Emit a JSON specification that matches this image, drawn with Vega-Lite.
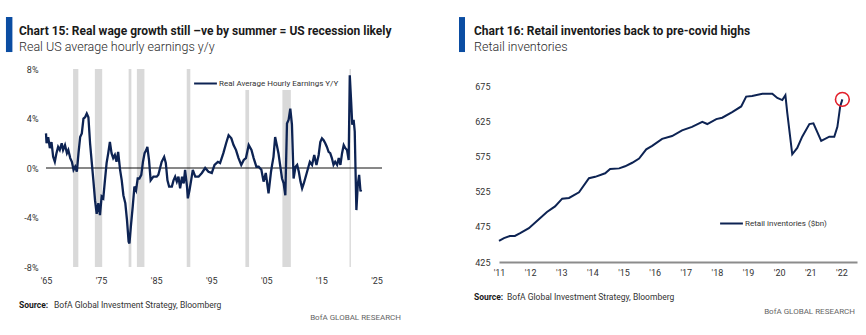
{
  "$schema": "https://vega.github.io/schema/vega-lite/v6.json",
  "padding": {"left": 5, "top": 17, "right": 5, "bottom": 5},
  "background": "white",
  "config": {
    "font": "Roboto",
    "view": {"stroke": null},
    "axis": {"grid": false, "ticks": false, "domain": false, "labelFontSize": 9, "labelColor": "#333333", "labelOverlap": false},
    "title": {"color": "#1a1a1a", "subtitleColor": "#2a2a2a"}
  },
  "resolve": {"scale": {"color": "independent"}, "legend": {"color": "independent"}},
  "datasets": {
    "one": [{"note": "annotation"}],
    "wages": [
      {"year":1965.0,"value":2.8},{"year":1965.1,"value":2.0},{"year":1965.4,"value":2.5},{"year":1965.7,"value":1.6},{"year":1966.0,"value":2.1},{"year":1966.3,"value":0.9},{"year":1966.6,"value":0.5},{"year":1966.9,"value":1.2},{"year":1967.2,"value":1.7},{"year":1967.5,"value":1.45},{"year":1967.85,"value":2.0},{"year":1968.1,"value":1.45},{"year":1968.45,"value":1.85},{"year":1968.8,"value":1.2},{"year":1969.05,"value":1.45},{"year":1969.4,"value":0.8},{"year":1969.7,"value":0.5},{"year":1970.0,"value":-0.15},{"year":1970.3,"value":0.1},{"year":1970.6,"value":-0.3},{"year":1970.9,"value":1.2},{"year":1971.2,"value":2.5},{"year":1971.5,"value":2.8},{"year":1971.8,"value":4.0},{"year":1972.1,"value":4.1},{"year":1972.4,"value":4.4},{"year":1972.7,"value":4.1},{"year":1973.0,"value":2.0},{"year":1973.3,"value":0.5},{"year":1973.6,"value":-1.0},{"year":1973.9,"value":-2.6},{"year":1974.2,"value":-3.7},{"year":1974.5,"value":-2.85},{"year":1974.8,"value":-3.8},{"year":1975.1,"value":-2.3},{"year":1975.4,"value":-2.45},{"year":1975.7,"value":-1.0},{"year":1976.0,"value":0.4},{"year":1976.3,"value":1.2},{"year":1976.6,"value":2.1},{"year":1976.9,"value":1.2},{"year":1977.2,"value":0.8},{"year":1977.5,"value":1.05},{"year":1977.8,"value":0.5},{"year":1978.1,"value":1.3},{"year":1978.45,"value":-0.15},{"year":1978.75,"value":-1.0},{"year":1979.05,"value":-2.2},{"year":1979.4,"value":-2.85},{"year":1979.7,"value":-4.2},{"year":1980.0,"value":-5.95},{"year":1980.15,"value":-6.1},{"year":1980.4,"value":-4.75},{"year":1980.75,"value":-3.1},{"year":1981.05,"value":-1.5},{"year":1981.35,"value":-1.8},{"year":1981.65,"value":-0.85},{"year":1981.95,"value":-0.85},{"year":1982.3,"value":-0.55},{"year":1982.6,"value":0.5},{"year":1982.9,"value":1.2},{"year":1983.2,"value":1.45},{"year":1983.4,"value":1.7},{"year":1983.7,"value":0.65},{"year":1984.0,"value":-1.0},{"year":1984.5,"value":-0.7},{"year":1984.8,"value":-0.7},{"year":1985.1,"value":-0.7},{"year":1985.4,"value":-0.55},{"year":1986.0,"value":0.5},{"year":1986.45,"value":0.9},{"year":1986.75,"value":0.4},{"year":1987.05,"value":-1.0},{"year":1987.35,"value":-1.5},{"year":1987.85,"value":-1.5},{"year":1988.15,"value":-1.0},{"year":1988.45,"value":-0.7},{"year":1988.75,"value":-1.1},{"year":1989.05,"value":-0.7},{"year":1989.35,"value":-1.65},{"year":1989.7,"value":-0.7},{"year":1990.0,"value":-1.25},{"year":1990.25,"value":-0.15},{"year":1990.6,"value":-1.5},{"year":1990.75,"value":-2.45},{"year":1991.05,"value":-1.8},{"year":1991.35,"value":-1.0},{"year":1991.65,"value":-0.15},{"year":1992.1,"value":-0.7},{"year":1992.7,"value":-0.7},{"year":1993.3,"value":-0.4},{"year":1993.9,"value":0.0},{"year":1994.5,"value":-0.3},{"year":1995.1,"value":-0.4},{"year":1995.6,"value":0.25},{"year":1996.2,"value":0.5},{"year":1996.6,"value":0.4},{"year":1997.2,"value":1.2},{"year":1997.7,"value":2.0},{"year":1998.15,"value":2.65},{"year":1998.65,"value":2.4},{"year":1999.05,"value":1.85},{"year":1999.5,"value":1.45},{"year":1999.95,"value":0.8},{"year":2000.45,"value":0.25},{"year":2000.9,"value":0.65},{"year":2001.3,"value":0.8},{"year":2001.8,"value":1.85},{"year":2002.3,"value":1.45},{"year":2002.7,"value":0.8},{"year":2003.2,"value":0.1},{"year":2003.6,"value":0.1},{"year":2004.1,"value":-0.15},{"year":2004.5,"value":-1.1},{"year":2004.9,"value":-0.4},{"year":2005.4,"value":-2.05},{"year":2005.85,"value":-0.3},{"year":2006.05,"value":0.25},{"year":2006.3,"value":0.9},{"year":2006.6,"value":2.5},{"year":2006.9,"value":1.85},{"year":2007.2,"value":1.2},{"year":2007.5,"value":0.25},{"year":2007.85,"value":-0.85},{"year":2008.15,"value":-1.25},{"year":2008.45,"value":-2.2},{"year":2008.75,"value":3.6},{"year":2009.05,"value":3.9},{"year":2009.35,"value":4.8},{"year":2009.65,"value":3.5},{"year":2009.95,"value":-0.85},{"year":2010.3,"value":0.1},{"year":2010.6,"value":0.25},{"year":2010.9,"value":-0.3},{"year":2011.2,"value":-1.1},{"year":2011.5,"value":-1.65},{"year":2011.8,"value":-1.25},{"year":2012.4,"value":-0.3},{"year":2012.9,"value":0.5},{"year":2013.3,"value":0.25},{"year":2013.7,"value":1.05},{"year":2014.1,"value":0.25},{"year":2014.5,"value":1.05},{"year":2014.8,"value":2.1},{"year":2015.1,"value":2.4},{"year":2015.4,"value":2.25},{"year":2015.7,"value":2.0},{"year":2016.0,"value":1.7},{"year":2016.3,"value":1.3},{"year":2016.6,"value":1.2},{"year":2016.9,"value":0.8},{"year":2017.2,"value":0.25},{"year":2017.5,"value":0.5},{"year":2017.85,"value":0.25},{"year":2018.15,"value":0.8},{"year":2018.45,"value":0.25},{"year":2018.75,"value":1.2},{"year":2019.05,"value":1.85},{"year":2019.35,"value":1.6},{"year":2019.65,"value":1.45},{"year":2019.95,"value":0.65},{"year":2020.15,"value":7.5},{"year":2020.4,"value":5.35},{"year":2020.6,"value":3.5},{"year":2020.85,"value":3.9},{"year":2021.05,"value":2.95},{"year":2021.2,"value":-0.3},{"year":2021.35,"value":-3.4},{"year":2021.6,"value":-1.35},{"year":2021.85,"value":-0.55},{"year":2022.1,"value":-1.9},{"year":2022.2,"value":-1.75}
    ],
    "recessions": [
      {"start":1969.92,"end":1970.87},{"start":1973.87,"end":1975.2},{"start":1980.0,"end":1980.5},{"start":1981.5,"end":1982.87},{"start":1990.55,"end":1991.2},{"start":2001.2,"end":2001.87},{"start":2007.92,"end":2009.45},{"start":2020.1,"end":2020.35}
    ],
    "inventories": [
      {"year":2011.0,"value":455},{"year":2011.16,"value":459},{"year":2011.35,"value":462},{"year":2011.51,"value":462},{"year":2011.68,"value":466},{"year":2011.96,"value":473},{"year":2012.29,"value":486},{"year":2012.54,"value":496},{"year":2012.8,"value":504},{"year":2013.03,"value":515},{"year":2013.25,"value":516},{"year":2013.57,"value":524},{"year":2013.89,"value":544},{"year":2014.09,"value":546},{"year":2014.41,"value":551},{"year":2014.57,"value":557},{"year":2014.86,"value":558},{"year":2015.05,"value":561},{"year":2015.28,"value":566},{"year":2015.5,"value":572},{"year":2015.73,"value":585},{"year":2015.92,"value":590},{"year":2016.24,"value":600},{"year":2016.56,"value":604},{"year":2016.88,"value":612},{"year":2017.2,"value":617},{"year":2017.53,"value":624},{"year":2017.69,"value":621},{"year":2017.98,"value":628},{"year":2018.17,"value":630},{"year":2018.49,"value":638},{"year":2018.78,"value":646},{"year":2018.94,"value":660},{"year":2019.13,"value":661},{"year":2019.46,"value":664},{"year":2019.78,"value":664},{"year":2019.94,"value":658},{"year":2020.1,"value":655},{"year":2020.2,"value":662},{"year":2020.26,"value":637},{"year":2020.42,"value":578},{"year":2020.58,"value":587},{"year":2020.74,"value":603},{"year":2020.97,"value":621},{"year":2021.1,"value":622},{"year":2021.35,"value":597},{"year":2021.61,"value":603},{"year":2021.77,"value":603},{"year":2021.87,"value":617},{"year":2021.96,"value":646},{"year":2022.03,"value":656}
    ],
    "highlight": [{"year":2022.03,"value":656}]
  },
  "hconcat": [
    {
      "width": 336, "height": 198,
      "title": {"text": "Chart 15: Real wage growth still \u2013ve by summer = US recession likely", "subtitle": "Real US average hourly earnings y/y", "anchor": "start", "frame": "group", "dx": -27, "offset": -37, "fontSize": 12, "fontWeight": "bold", "subtitleFontSize": 12.5, "subtitleFontWeight": 300, "subtitlePadding": 3},
      "layer": [
        {"data": {"name": "recessions"}, "mark": {"type": "rect", "color": "#d9d9d9"},
         "encoding": {"x": {"field": "start", "type": "quantitative", "title": null, "scale": {"domain": [1965, 2026], "nice": false, "zero": false}, "axis": {"values": [1965,1975,1985,1995,2005,2015,2025], "tickCount": 20, "labelOverlap": false, "labelExpr": "\"'\" + substring(toString(datum.value), 2)", "labelPadding": 9, "labelFlush": false}}, "x2": {"field": "end"}}},
        {"data": {"name": "one"}, "mark": {"type": "rule", "color": "#111111", "strokeWidth": 1}, "encoding": {"y": {"datum": 0, "type": "quantitative"}}},
        {"data": {"name": "wages"}, "mark": {"type": "line", "strokeWidth": 2.3},
         "encoding": {
           "x": {"field": "year", "type": "quantitative", "title": null},
           "y": {"field": "value", "type": "quantitative", "title": null, "scale": {"domain": [-8, 8], "nice": false}, "axis": {"values": [-8,-4,0,4,8], "tickCount": 20, "labelOverlap": false, "labelExpr": "datum.value + '%'", "labelPadding": 8}},
           "color": {"datum": "Real Average Hourly Earnings Y/Y", "type": "nominal", "scale": {"range": ["#0d2353"]},
             "legend": {"orient": "none", "legendX": 145, "legendY": 0, "title": null, "symbolType": "stroke", "symbolSize": 520, "symbolStrokeWidth": 2, "labelFontSize": 8, "labelColor": "#333333", "fillColor": "white", "padding": 2, "labelOffset": 1}}
         }},
        {"data": {"name": "one"}, "mark": {"type": "rect", "color": "#0b4da2"},
         "encoding": {"x": {"datum": 1957.73, "type": "quantitative"}, "x2": {"datum": 1958.9}, "y": {"datum": 12.2, "type": "quantitative"}, "y2": {"datum": 9.37}}},
        {"data": {"name": "one"}, "mark": {"type": "text", "text": "Source:", "fontWeight": "bold", "fontSize": 8.5, "align": "left", "baseline": "middle", "dx": -27, "color": "#1a1a1a"},
         "encoding": {"x": {"datum": 1965, "type": "quantitative"}, "y": {"datum": -11.07, "type": "quantitative"}}},
        {"data": {"name": "one"}, "mark": {"type": "text", "text": "BofA Global Investment Strategy, Bloomberg", "fontSize": 8.5, "align": "left", "baseline": "middle", "dx": 8, "color": "#333333"},
         "encoding": {"x": {"datum": 1965, "type": "quantitative"}, "y": {"datum": -11.07, "type": "quantitative"}}},
        {"data": {"name": "one"}, "mark": {"type": "text", "text": "BofA GLOBAL RESEARCH", "fontSize": 8, "align": "right", "baseline": "middle", "dx": 19, "color": "#666666"},
         "encoding": {"x": {"datum": 2026, "type": "quantitative"}, "y": {"datum": -12.12, "type": "quantitative"}}}
      ]
    },
    {
      "width": 358, "height": 193,
      "title": {"text": "Chart 16: Retail inventories back to pre-covid highs", "subtitle": "Retail inventories", "anchor": "start", "frame": "group", "dx": -25, "offset": -37, "fontSize": 12, "fontWeight": "bold", "subtitleFontSize": 12.5, "subtitleFontWeight": 300, "subtitlePadding": 3},
      "layer": [
        {"data": {"name": "inventories"}, "mark": {"type": "line", "strokeWidth": 2, "color": "#0d2353"},
         "encoding": {
           "x": {"field": "year", "type": "quantitative", "title": null, "scale": {"domain": [2011, 2022.5], "nice": false, "zero": false}, "axis": {"values": [2011,2012,2013,2014,2015,2016,2017,2018,2019,2020,2021,2022], "tickCount": 30, "labelOverlap": false, "labelExpr": "\"'\" + substring(toString(datum.value), 2)", "labelPadding": 6, "domain": true, "domainColor": "#8c8c8c", "domainWidth": 2, "labelFlush": false}},
           "y": {"field": "value", "type": "quantitative", "title": null, "scale": {"domain": [425, 699.2], "nice": false, "zero": false}, "axis": {"values": [425,475,525,575,625,675], "tickCount": 30, "labelOverlap": false, "labelPadding": 9}},
           "color": {"datum": "Retail inventories ($bn)", "type": "nominal", "scale": {"range": ["#0d2353"]},
             "legend": {"orient": "none", "legendX": 218, "legendY": 140, "title": null, "symbolType": "stroke", "symbolSize": 520, "symbolStrokeWidth": 2, "labelFontSize": 8, "labelColor": "#333333", "padding": 2, "labelOffset": 1}}
         }},
        {"data": {"name": "highlight"}, "mark": {"type": "point", "shape": "circle", "filled": false, "color": "#e3202b", "strokeWidth": 1.6, "size": 190, "opacity": 1},
         "encoding": {"x": {"field": "year", "type": "quantitative"}, "y": {"field": "value", "type": "quantitative"}}},
        {"data": {"name": "one"}, "mark": {"type": "rect", "color": "#0b4da2"},
         "encoding": {"x": {"datum": 2009.715, "type": "quantitative"}, "x2": {"datum": 2009.908}, "y": {"datum": 773.0, "type": "quantitative"}, "y2": {"datum": 723.3}}},
        {"data": {"name": "one"}, "mark": {"type": "text", "text": "Source:", "fontWeight": "bold", "fontSize": 8.5, "align": "left", "baseline": "middle", "dx": -25, "color": "#1a1a1a"},
         "encoding": {"x": {"datum": 2011, "type": "quantitative"}, "y": {"datum": 375.3, "type": "quantitative"}}},
        {"data": {"name": "one"}, "mark": {"type": "text", "text": "BofA Global Investment Strategy, Bloomberg", "fontSize": 8.5, "align": "left", "baseline": "middle", "dx": 8, "color": "#333333"},
         "encoding": {"x": {"datum": 2011, "type": "quantitative"}, "y": {"datum": 375.3, "type": "quantitative"}}},
        {"data": {"name": "one"}, "mark": {"type": "text", "text": "BofA GLOBAL RESEARCH", "fontSize": 8, "align": "right", "baseline": "middle", "dx": -2, "color": "#666666"},
         "encoding": {"x": {"datum": 2022.5, "type": "quantitative"}, "y": {"datum": 354, "type": "quantitative"}}}
      ]
    }
  ],
  "spacing": 57
}
